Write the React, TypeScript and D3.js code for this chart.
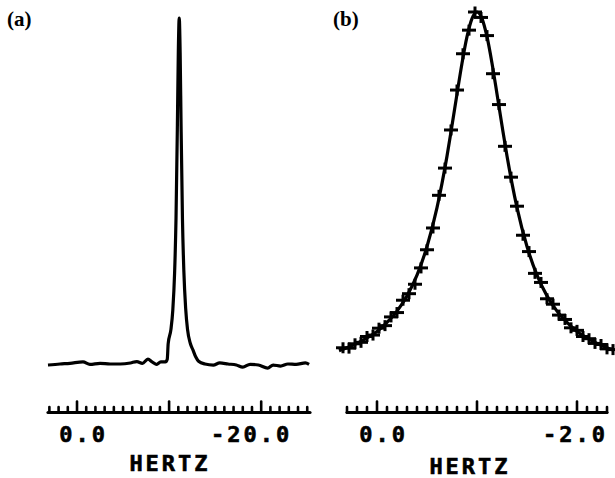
import React from 'react';
import * as d3 from 'd3';

// panel (a): wide sweep, hertz vs relative amplitude (baseline 0, peak 100)
const aHz = [3.15, 1.85, 0.76, -0.65, -1.4, -2.5, -3.6, -4.7, -5.8, -6.5, -7.1, -7.7, -8.15, -8.6, -9.1, -9.6,
  -9.8, -9.9, -10.2, -10.4, -10.6, -10.75, -10.9, -11.0, -11.1, -11.2, -11.3, -11.45, -11.6, -11.8, -12.0,
  -12.3, -12.6, -12.9, -13.2, -13.9, -14.8, -15.5, -16.4, -17.3, -18.0, -18.8, -19.7, -20.7, -21.3, -22.1,
  -22.9, -23.8, -24.8, -25.2];
const aAmp = [-0.3, 0, 0.2, 0.6, -0.1, 0.2, 0, 0, 0.3, 0.7, 0.2, 1.4, 0.6, -0.1, 0.6, 0.6,
  1.4, 5.9, 10, 15.5, 26.5, 42, 69, 90, 100, 90, 69, 42, 27, 16, 10,
  6, 4, 2, 0.8, 0, -0.3, 0.3, 0, -0.3, -0.9, -0.1, -0.3, -1.2, -0.3, -0.6,
  0, -0.1, 0.3, -0.1];

// panel (b): expanded sweep, fitted line and measured points
const bLineHz = [0.38, 0.3, 0.2, 0.1, 0.0, -0.1, -0.2, -0.3, -0.4, -0.5, -0.6, -0.65, -0.7, -0.75, -0.8, -0.85,
  -0.9, -0.95, -1.0, -1.05, -1.1, -1.15, -1.2, -1.25, -1.3, -1.35, -1.4, -1.5, -1.6, -1.7, -1.8, -1.9,
  -2.0, -2.1, -2.2, -2.3, -2.36];
const bLineAmp = [6.7, 7.5, 8.7, 10.2, 12.0, 14.5, 17.6, 21.8, 27.5, 35.4, 46.1, 52.8, 60.3, 68.7, 77.4, 85.9,
  93.2, 98.2, 100, 98.2, 93.2, 85.9, 77.4, 68.7, 60.3, 52.8, 46.1, 35.4, 27.5, 21.8, 17.6, 14.5,
  12.0, 10.2, 8.7, 7.5, 6.9];
const bPointHz = [0.34, 0.28, 0.22, 0.16, 0.10, 0.04, -0.02, -0.08, -0.14, -0.20, -0.26, -0.32, -0.38, -0.44,
  -0.50, -0.56, -0.62, -0.68, -0.74, -0.80, -0.86, -0.92, -0.98, -1.04, -1.10, -1.16, -1.22, -1.28, -1.34,
  -1.40, -1.46, -1.52, -1.58, -1.64, -1.70, -1.76, -1.82, -1.88, -1.94, -2.00, -2.06, -2.12, -2.18, -2.24,
  -2.30, -2.36];
const bPointAmp = [7.5, 7.4, 8.6, 9.0, 10.6, 11.0, 12.9, 13.6, 16.0, 17.2, 20.6, 22.4, 25.0, 29.5,
  34.5, 40.5, 49.5, 57.0, 67.5, 78.5, 88.5, 95.0, 100, 98.5, 93.5, 83.0, 74.5, 63.0, 54.5,
  46.5, 38.5, 34.0, 28.0, 25.5, 21.0, 19.5, 16.5, 15.3, 13.0, 12.3, 10.6, 10.0, 8.7, 8.4,
  7.2, 7.0];

const aMajor = [0, -10, -20];
const aLabels = ['0.0', '-20.0'];
const aLabelAt = [0, -20];
const bMajor = [0, -1, -2];
const bLabels = ['0.0', '-2.0'];
const bLabelAt = [0, -2];

const W = 615;
const H = 478;
const axisY = 412.5;
const mono = '"DejaVu Sans Mono", monospace';

type AxisProps = {
  x: d3.ScaleLinear<number, number>;
  minor: number[];
  major: number[];
  labels: string[];
  labelAt: number[];
  titleX: number;
  titleY: number;
};

const Axis = ({ x, minor, major, labels, labelAt, titleX, titleY }: AxisProps) => {
  const [x0, x1] = x.range();
  return (
    <g>
      <line x1={x0} x2={x1} y1={axisY} y2={axisY} stroke="#000" strokeWidth={3.2} strokeLinecap="round" />
      {minor.map((v, i) => {
        const isMajor = major.some(m => Math.abs(m - v) < 1e-6);
        return (
          <line key={i} x1={x(v)} x2={x(v)} y1={axisY} y2={axisY - (isMajor ? 11 : 5.5)}
            stroke="#000" strokeWidth={2.6} strokeLinecap="round" />
        );
      })}
      {labels.map((t, i) => (
        <text key={t} x={x(labelAt[i]) + 31} y={442} textAnchor="end" stroke="#000" strokeWidth={0.6}
          fontFamily={mono} fontWeight="bold" fontSize={22} letterSpacing={3}>{t}</text>
      ))}
      <text x={titleX} y={titleY} textAnchor="middle" fontFamily={mono} fontWeight="bold" stroke="#000"
        strokeWidth={0.6} fontSize={22} letterSpacing={3}>HERTZ</text>
    </g>
  );
};

export default function App() {
  // panel (a) scales
  const xa = d3.scaleLinear().domain([3.15, -25.3]).range([48, 310]);
  const ya = d3.scaleLinear().domain([0, 100]).range([364, 18]);
  // panel (b) scales
  const xb = d3.scaleLinear().domain([0.3, -2.3]).range([347, 607]);
  const yb = d3.scaleLinear().domain([0, 100]).range([375, 12]);

  const aData = aHz.map((h, i) => [h, aAmp[i]] as [number, number]);
  const bLine = bLineHz.map((h, i) => [h, bLineAmp[i]] as [number, number]);
  const bPts = bPointHz.map((h, i) => [h, bPointAmp[i]] as [number, number]);

  const lineA = d3.line<[number, number]>().x(d => xa(d[0])).y(d => ya(d[1])).curve(d3.curveMonotoneX);
  const lineB = d3.line<[number, number]>().x(d => xb(d[0])).y(d => yb(d[1])).curve(d3.curveMonotoneX);

  const aMinor = d3.range(3, -26, -1);
  const bMinor = d3.range(3, -24, -1).map(v => v / 10);

  return (
    <svg width={W} height={H} style={{ position: 'absolute', left: 0, top: 0, display: 'block', background: '#fff' }}>
      <text x={7} y={26} fontFamily='"Liberation Serif", serif' fontWeight="bold" fontSize={21}>(a)</text>
      <text x={333} y={26} fontFamily='"Liberation Serif", serif' fontWeight="bold" fontSize={21}>(b)</text>

      <path d={lineA(aData) || ''} fill="none" stroke="#000" strokeWidth={3.2} strokeLinejoin="round" />

      <path d={lineB(bLine) || ''} fill="none" stroke="#000" strokeWidth={3.2} strokeLinejoin="round" />
      {bPts.map((d, i) => (
        <g key={i} transform={`translate(${xb(d[0])},${yb(d[1])})`} stroke="#000" strokeWidth={3}>
          <line x1={-7} x2={7} y1={0} y2={0} />
          <line x1={0} x2={0} y1={-5.5} y2={5.5} />
        </g>
      ))}

      <Axis x={xa} minor={aMinor} major={aMajor} labels={aLabels} labelAt={aLabelAt} titleX={170} titleY={471} />
      <Axis x={xb} minor={bMinor} major={bMajor} labels={bLabels} labelAt={bLabelAt} titleX={470} titleY={474} />
    </svg>
  );
}
